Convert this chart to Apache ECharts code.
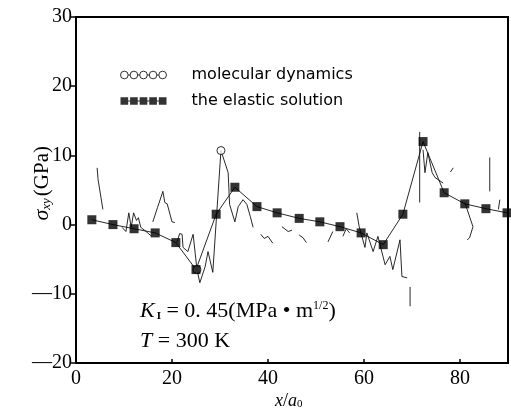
<!DOCTYPE html>
<html>
<head>
<meta charset="utf-8">
<script src="https://cdn.jsdelivr.net/npm/echarts@6/dist/echarts.min.js"></script>
<style>html,body{margin:0;padding:0;background:#fff;}#c{width:511px;height:409px;}</style>
</head>
<body>
<div id="c"></div>
<script>
// ---- data ----
const xTicks = [0, 20, 40, 60, 80];
const yTicks = [-20, -10, 0, 10, 20, 30];

// elastic solution (squares)
const elX = [3.3, 7.7, 12.1, 16.5, 20.8, 25.0, 29.2, 33.1, 37.7, 41.9, 46.5, 50.8, 55.0, 59.4, 64.0, 68.1, 72.3, 76.7, 81.0, 85.4, 89.8];
const elY = [0.7, 0.0, -0.6, -1.2, -2.6, -6.5, 1.5, 5.4, 2.6, 1.7, 0.9, 0.4, -0.3, -1.2, -2.9, 1.5, 12.0, 4.6, 3.0, 2.3, 1.7];

// molecular dynamics (null = gap in the trace)
const mdX = [4.4, 4.6, 5.6, 5.6,
  9.6, 10.4, 11.0, 11.5, 12.0, 12.6, 13.0, 13.5, 14.6, 15.6, 15.6,
  16.0, 17.0, 18.1, 18.5, 19.0, 20.0, 20.6, 20.6,
  21.0, 21.6, 22.1, 22.3, 23.3, 24.4, 25.2, 25.8, 26.9, 27.5, 28.5, 29.2, 30.2, 31.7, 32.0, 33.1, 33.8, 34.8, 35.6, 36.3, 36.9, 36.9,
  38.5, 39.2, 40.0, 41.0, 41.0,
  42.9, 44.2, 45.0, 45.0,
  46.5, 47.3, 48.0, 48.0,
  52.5, 53.5, 53.5,
  55.6, 56.3, 57.0, 57.0,
  58.5, 59.0, 60.2, 60.6, 61.9, 62.9, 64.4, 65.4, 66.0, 67.5, 67.9, 69.0, 69.0,
  69.6, 69.6, 69.6,
  71.6, 71.6, 71.6,
  72.3, 72.7, 73.3, 74.2, 74.8, 76.5, 76.5,
  78.0, 78.6, 78.6,
  81.0, 82.7, 82.0, 81.5, 81.5,
  86.2, 86.2, 86.2,
  88.0, 88.3];
const mdY = [8.2, 6.5, 2.2, null,
  -0.4, -1.0, 1.7, -0.4, 1.7, 0.6, 1.0, -0.4, -1.0, -1.6, null,
  0.4, 2.5, 4.8, 3.2, 3.0, 0.4, 0.3, null,
  -2.6, -1.3, -1.4, -3.3, -3.9, -1.4, -6.5, -8.4, -6.1, -3.9, -6.9, 0.4, 10.7, 7.5, 2.9, 0.4, 2.6, 3.6, 2.9, 1.2, -0.4, null,
  -1.4, -2.0, -1.7, -2.7, null,
  -0.3, -1.0, -0.8, null,
  -1.5, -1.9, -2.6, null,
  -2.5, -1.0, null,
  -1.7, -0.6, -1.2, null,
  1.7, -0.3, -3.3, -1.2, -3.9, -1.7, -5.8, -4.6, -6.5, -2.2, -7.5, -7.7, null,
  -9.0, -11.8, null,
  3.2, 13.4, null,
  10.8, 7.5, 10.4, 7.5, 6.8, 6.0, null,
  7.6, 8.2, null,
  3.2, -0.3, -1.9, -2.2, null,
  9.7, 4.8, null,
  2.2, 3.6];

// open-circle markers on the MD trace
const mdMarkX = [25.2, 30.2];
const mdMarkY = [-6.5, 10.7];

const seriesNames = ['molecular dynamics', 'the elastic solution'];

// ---- chart ----
const chart = echarts.init(document.getElementById('c'), null, {renderer: 'canvas'});
const serif = '"Liberation Serif", "DejaVu Serif", serif';
const sans = '"DejaVu Sans", sans-serif';

const circIcon = 'path://M0,4a4,4 0 1,0 8,0a4,4 0 1,0 -8,0M8,4L10,4M10,4a4,4 0 1,0 8,0a4,4 0 1,0 -8,0M18,4L20,4M20,4a4,4 0 1,0 8,0a4,4 0 1,0 -8,0M28,4L30,4M30,4a4,4 0 1,0 8,0a4,4 0 1,0 -8,0M38,4L40,4M40,4a4,4 0 1,0 8,0a4,4 0 1,0 -8,0';
const sqIcon = 'path://M0,0L8,0L8,8L0,8ZM8,3.5L10,3.5L10,4.5L8,4.5ZM10,0L18,0L18,8L10,8ZM18,3.5L20,3.5L20,4.5L18,4.5ZM20,0L28,0L28,8L20,8ZM28,3.5L30,3.5L30,4.5L28,4.5ZM30,0L38,0L38,8L30,8ZM38,3.5L40,3.5L40,4.5L38,4.5ZM40,0L48,0L48,8L40,8Z';

const fmtY = v => (v < 0 ? '\u2014' + Math.abs(v) : String(v));

chart.setOption({
  animation: false,
  backgroundColor: '#fff',
  grid: {left: 76, right: 3, top: 17, bottom: 46, show: true, borderColor: '#000', borderWidth: 2},
  legend: {
    left: 115, top: 62, orient: 'vertical', itemGap: 10,
    itemWidth: 46, itemHeight: 8,
    textStyle: {fontFamily: sans, fontSize: 16, color: '#000', padding: [0, 0, 0, 20]},
    data: [
      {name: seriesNames[0], icon: circIcon, itemStyle: {color: '#fff', borderColor: '#000', borderWidth: 1}},
      {name: seriesNames[1], icon: sqIcon, itemStyle: {color: '#000', borderWidth: 0}}
    ]
  },
  xAxis: {
    type: 'value', min: 0, max: 90, interval: 20,
    axisLine: {onZero: false, lineStyle: {color: '#000', width: 2}},
    axisTick: {inside: true, length: 4, lineStyle: {color: '#000', width: 1.5}},
    splitLine: {show: false},
    axisLabel: {
      margin: 6, fontFamily: serif, fontSize: 20, color: '#000', showMaxLabel: false,
      formatter: v => (xTicks.indexOf(v) >= 0 ? String(v) : '')
    }
  },
  yAxis: {
    type: 'value', min: -20, max: 30, interval: 10,
    axisLine: {onZero: false, lineStyle: {color: '#000', width: 2}},
    axisTick: {inside: false, length: 5, lineStyle: {color: '#000', width: 1.5}},
    splitLine: {show: false},
    axisLabel: {
      margin: 4, fontFamily: serif, fontSize: 20, color: '#000',
      formatter: v => (yTicks.indexOf(v) >= 0 ? fmtY(v) : '')
    }
  },
  series: [
    {
      name: 'md-trace', type: 'line', symbol: 'none', silent: true,
      lineStyle: {color: '#111', width: 0.9},
      data: mdX.map((x, i) => [x, mdY[i] === null ? '-' : mdY[i]]),
      z: 2
    },
    {
      name: 'elastic-trace', type: 'line', symbol: 'none', silent: true,
      lineStyle: {color: '#111', width: 0.9},
      data: elX.map((x, i) => [x, elY[i]]),
      z: 2
    },
    {
      name: seriesNames[0], type: 'scatter', symbol: 'circle', symbolSize: 8,
      itemStyle: {color: '#fff', borderColor: '#000', borderWidth: 1},
      data: mdMarkX.map((x, i) => [x, mdMarkY[i]]),
      z: 3
    },
    {
      name: seriesNames[1], type: 'scatter', symbol: 'rect', symbolSize: 9,
      itemStyle: {color: '#000'},
      data: elX.map((x, i) => [x, elY[i]]),
      z: 4
    }
  ],
  graphic: [
    {
      type: 'text', left: 31, top: 146, rotation: Math.PI / 2,
      style: {
        text: '{s|σ}{sub|xy}{n|(GPa)}',
        rich: {
          s: {fontFamily: serif, fontStyle: 'italic', fontSize: 22, fill: '#000'},
          sub: {fontFamily: serif, fontStyle: 'italic', fontSize: 13, fill: '#000', verticalAlign: 'bottom', padding: [9, 2, 0, 0]},
          n: {fontFamily: serif, fontSize: 21, fill: '#000'}
        }
      }
    },
    {
      type: 'text', left: 275, top: 392,
      style: {
        text: '{i|x}{n|/}{i|a}{sub|0}',
        rich: {
          i: {fontFamily: serif, fontStyle: 'italic', fontSize: 18, fill: '#000'},
          n: {fontFamily: serif, fontSize: 18, fill: '#000'},
          sub: {fontFamily: serif, fontSize: 11, fill: '#000', verticalAlign: 'bottom', padding: [6, 0, 0, 0]}
        }
      }
    },
    {
      type: 'text', left: 140, top: 300,
      style: {
        text: '{i|K}{sub|I}{n| = 0. 45(MPa • m}{sup|1/2}{n|)}',
        rich: {
          i: {fontFamily: serif, fontStyle: 'italic', fontSize: 22, fill: '#000'},
          n: {fontFamily: serif, fontSize: 22, fill: '#000'},
          sub: {fontFamily: serif, fontWeight: 'bold', fontSize: 11, fill: '#000', verticalAlign: 'bottom', padding: [9, 0, 0, 2]},
          sup: {fontFamily: serif, fontSize: 12, fill: '#000', verticalAlign: 'top', padding: [0, 0, 9, 0]}
        }
      }
    },
    {
      type: 'text', left: 140, top: 330,
      style: {
        text: '{i|T}{n| = 300 K}',
        rich: {
          i: {fontFamily: serif, fontStyle: 'italic', fontSize: 22, fill: '#000'},
          n: {fontFamily: serif, fontSize: 22, fill: '#000'}
        }
      }
    }
  ]
});
</script>
</body>
</html>
